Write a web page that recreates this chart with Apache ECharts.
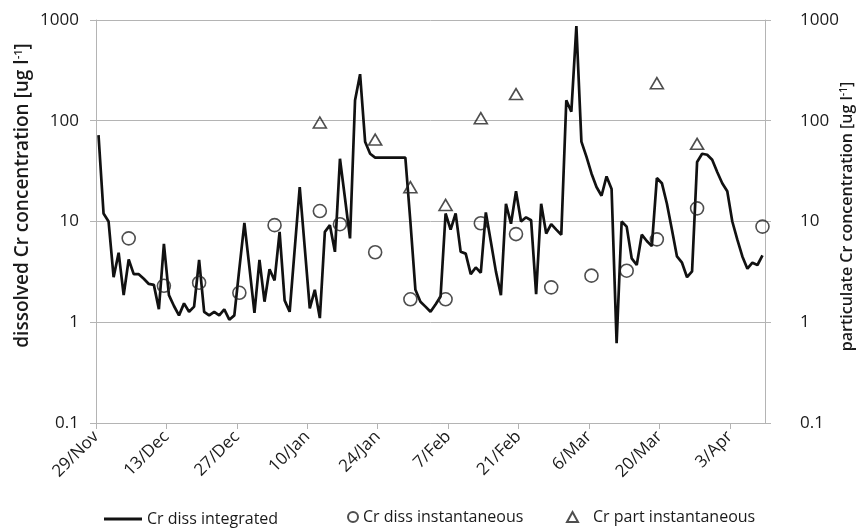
<!DOCTYPE html>
<html><head><meta charset="utf-8">
<script src="https://cdn.jsdelivr.net/npm/echarts@6/dist/echarts.min.js"></script>
<style>html,body{margin:0;padding:0;background:#fff}#c{width:862px;height:531px}</style>
</head><body><div id="c"></div>
<script>
// x values are days since 29/Nov; daily samples sit at the middle of each day
const tickDays = [0,14,28,42,56,70,84,98,112,126];
const tickLabels = ['29/Nov','13/Dec','27/Dec','10/Jan','24/Jan','7/Feb','21/Feb','6/Mar','20/Mar','3/Apr'];
const axisMaxDay = 133;
const yTickLabels = ['0.1','1','10','100','1000'];

// Cr diss integrated (daily, from 29/Nov)
const lineValues = [
  72,12,10,2.8,4.9,1.86,4.2,3.0,3.0,2.7,
  2.4,2.35,1.35,6.0,1.86,1.45,1.17,1.54,1.27,1.43,
  4.15,1.27,1.17,1.27,1.17,1.34,1.06,1.17,3.4,9.7,
  3.5,1.24,4.15,1.6,3.36,2.6,7.9,1.65,1.27,5.3,
  22,5.5,1.37,2.1,1.1,7.9,9.2,5.0,42,17,
  6.8,160,290,62,47,43,43,43,43,43,
  43,43,10,2.1,1.6,1.43,1.27,1.5,1.8,12,
  8.3,12,5.0,4.8,3.0,3.5,3.1,12.3,6.3,3.2,
  1.86,15,9.5,20,10,11,10.3,1.9,15,7.6,
  9.4,8.3,7.4,160,123,870,62,44,30,22,
  18,28,21,0.62,10,8.9,4.3,3.7,7.4,6.4,
  5.7,27,24,15,8.3,4.5,3.9,2.8,3.2,39,
  47,46,41,31,24,20,10,6.6,4.5,3.4,
  3.9,3.7,4.6
];
// Cr diss instantaneous
const dissDays   = [6,13,20,28,35,44,48,55,62,69,76,83,90,98,105,111,119,132];
const dissValues = [6.8,2.3,2.47,1.96,9.2,12.7,9.4,4.95,1.69,1.69,9.6,7.5,2.22,2.9,3.25,6.65,13.5,8.9];
// Cr part instantaneous
const partDays   = [44,55,62,69,76,83,111,119];
const partValues = [96,65,21.9,14.6,106,184,236,59];

const seriesNames = ['Cr diss integrated','Cr diss instantaneous','Cr part instantaneous'];

const lineData = lineValues.map((v,i)=>[i+0.5, v]);
const dissData = dissDays.map((d,i)=>[d+0.5, dissValues[i]]);
const partData = partDays.map((d,i)=>[d+0.5, partValues[i]]);

const FONT = 'Open Sans';
const TXT = '#1a1a1a';
const GRID = '#b4b4b4';

function richFor(size){
  return {
    a:{fontFamily:FONT,fontSize:size,fontWeight:600,color:TXT},
    s:{fontFamily:FONT,fontSize:Math.round(size*0.6),fontWeight:600,color:TXT,verticalAlign:'top',padding:[0,0,Math.round(size*0.45),0]}
  };
}

const chart = echarts.init(document.getElementById('c'));
const yCommon = {
  type:'log', logBase:10, min:0.1, max:1000,
  axisLine:{show:true,lineStyle:{color:GRID,width:1}},
  axisTick:{show:true,length:6,lineStyle:{color:GRID}},
  axisLabel:{fontFamily:FONT,fontSize:17,color:TXT,
    formatter:(v)=>{ const k=Math.round(Math.log10(v))+1; return yTickLabels[k]!==undefined?yTickLabels[k]:''; }},
  nameLocation:'middle', nameRotate:90, nameMoveOverlap:false
};
chart.setOption({
  animation:false,
  backgroundColor:'#fff',
  grid:{left:96,right:97,top:20,bottom:108,outerBoundsMode:'none',containLabel:false},
  xAxis:{
    type:'value', min:0, max:axisMaxDay,
    axisLine:{show:true,onZero:false,lineStyle:{color:GRID,width:1}},
    axisTick:{show:true,length:6,lineStyle:{color:GRID},customValues:tickDays},
    axisLabel:{fontFamily:FONT,fontSize:17,color:TXT,rotate:45,margin:11,
      customValues:tickDays,
      formatter:(v)=>{const k=tickDays.indexOf(Math.round(v)); return k>=0?tickLabels[k]:'';}},
    splitLine:{show:false}
  },
  yAxis:[
    Object.assign({}, yCommon, {
      position:'left',
      axisLabel:Object.assign({}, yCommon.axisLabel, {margin:17}),
      splitLine:{show:true,lineStyle:{color:GRID,width:1}},
      name:'{a|dissolved Cr concentration [ug l}{s|-1}{a|]}',
      nameGap:63,
      nameTextStyle:{rich:richFor(19),padding:[0,0,0,52]}
    }),
    Object.assign({}, yCommon, {
      position:'right',
      axisLabel:Object.assign({}, yCommon.axisLabel, {margin:35}),
      splitLine:{show:false},
      name:'{a|particulate Cr concentration [ug l}{s|-1}{a|]}',
      nameGap:74,
      nameTextStyle:{rich:richFor(16),padding:[0,0,0,10]}
    })
  ],
  legend:[
    {data:[{name:seriesNames[0],icon:'rect'}],left:104,top:511,padding:0,itemWidth:38,itemHeight:3,
      textStyle:{fontFamily:FONT,fontSize:16,color:TXT}},
    {data:[seriesNames[1]],left:347,top:509,padding:0,itemWidth:10,itemHeight:10,
      textStyle:{fontFamily:FONT,fontSize:16,color:TXT}},
    {data:[seriesNames[2]],left:566,top:509,padding:0,itemWidth:11,itemHeight:10,
      textStyle:{fontFamily:FONT,fontSize:16,color:TXT,padding:[0,0,0,10]}}
  ],
  series:[
    {name:seriesNames[0],type:'line',data:lineData,yAxisIndex:0,
      symbol:'none',lineStyle:{color:'#111',width:2.7},itemStyle:{color:'#111'},z:2},
    {name:seriesNames[1],type:'scatter',data:dissData,yAxisIndex:0,
      symbol:'circle',symbolSize:13,
      itemStyle:{color:'rgba(0,0,0,0)',borderColor:'#222',borderWidth:1.6},z:3},
    {name:seriesNames[2],type:'scatter',data:partData,yAxisIndex:1,
      symbol:'triangle',symbolSize:[13,11],
      itemStyle:{color:'rgba(0,0,0,0)',borderColor:'#222',borderWidth:1.6},z:3}
  ]
});
</script></body></html>
